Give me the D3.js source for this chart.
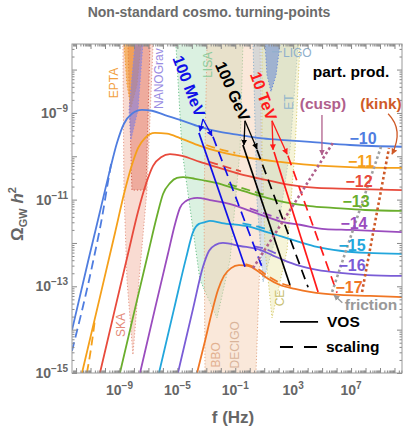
<!DOCTYPE html>
<html><head><meta charset="utf-8">
<script src="https://cdn.jsdelivr.net/npm/d3@7"></script>
<style>
body{margin:0;background:#fff}
text{font-family:"Liberation Sans",Arial,sans-serif}
</style>
</head><body>
<svg id="chart" width="407" height="431"></svg>
<script>
// all points are [log10 f(Hz), log10 Omega_GW h^2]
const xDomain = [-12.28, 10.52];
const yDomain = [-15, -7.41];
const xLabelExps = [-9, -5, -1, 3, 7];
const yLabelExps = [-15, -13, -11, -9];

const gmuLabels = ["−10", "−11", "−12", "−13", "−14", "−15", "−16", "−17"];
const gmuColors = ["#4f7de0", "#f5a01a", "#e84a3c", "#6aae2c", "#9a4cbe", "#22a6dc", "#7a5cd6", "#f07624"];
const gmuLabelPos = [[7.83,-9.60],[7.69,-10.11],[7.55,-10.59],[7.34,-11.05],[7.20,-11.54],[7.07,-12.05],[7.07,-12.53],[6.86,-13.02]];

// VOS spectra for G mu = 1e-10 ... 1e-17
const vosM10 = [[-12.28,-14.01],[-11.18,-12.44],[-10.35,-11.28],[-9.66,-10.32],[-9.17,-9.69],[-8.69,-9.25],[-8.14,-9.02],[-7.45,-8.93],[-6.75,-8.95],[-5.86,-9.05],[-4.82,-9.16],[-3.44,-9.32],[-2.05,-9.44],[-0.67,-9.51],[0.71,-9.58],[2.09,-9.62],[4.16,-9.67],[6.93,-9.74],[10.52,-9.78]];
const vosM11 = [[-11.59,-15.00],[-10.35,-13.25],[-9.31,-11.77],[-8.62,-10.78],[-8.14,-10.20],[-7.72,-9.81],[-7.24,-9.58],[-6.55,-9.46],[-5.72,-9.48],[-4.82,-9.58],[-3.44,-9.76],[-2.05,-9.90],[0.02,-10.04],[2.09,-10.13],[4.16,-10.20],[6.93,-10.25],[10.52,-10.27]];
const vosM12 = [[-10.35,-15.00],[-9.31,-13.52],[-8.41,-12.25],[-7.72,-11.28],[-7.17,-10.64],[-6.68,-10.22],[-6.13,-10.02],[-5.51,-9.95],[-4.68,-9.99],[-3.44,-10.13],[-2.26,-10.25],[-0.67,-10.41],[1.19,-10.55],[2.78,-10.66],[4.65,-10.73],[6.93,-10.75],[10.52,-10.78]];
const vosM13 = [[-8.97,-15.00],[-7.93,-13.52],[-7.03,-12.25],[-6.41,-11.38],[-5.99,-10.87],[-5.51,-10.62],[-5.03,-10.50],[-4.61,-10.48],[-3.78,-10.52],[-2.26,-10.62],[-1.16,-10.73],[0.02,-10.85],[1.19,-10.96],[2.30,-11.05],[4.16,-11.15],[5.75,-11.19],[7.97,-11.24],[10.52,-11.26]];
const vosM14 = [[-7.58,-15.00],[-6.55,-13.52],[-5.65,-12.25],[-5.16,-11.56],[-4.82,-11.19],[-4.40,-11.03],[-4.06,-10.98],[-3.64,-10.96],[-2.75,-11.01],[-1.16,-11.12],[0.02,-11.26],[1.19,-11.40],[2.30,-11.52],[3.47,-11.58],[5.20,-11.68],[6.93,-11.70],[10.52,-11.75]];
const vosM15 = [[-6.27,-15.00],[-5.23,-13.52],[-4.40,-12.35],[-3.92,-11.75],[-3.51,-11.56],[-3.09,-11.52],[-2.75,-11.49],[-1.92,-11.54],[0.02,-11.63],[1.19,-11.75],[2.30,-11.86],[3.47,-11.98],[4.65,-12.09],[6.24,-12.18],[8.10,-12.23],[10.52,-12.25]];
const vosM16 = [[-4.96,-15.00],[-3.92,-13.52],[-3.23,-12.55],[-2.81,-12.18],[-2.40,-12.05],[-1.85,-12.00],[-0.67,-12.07],[0.71,-12.16],[1.54,-12.28],[2.30,-12.39],[3.47,-12.53],[4.65,-12.62],[6.24,-12.69],[8.10,-12.74],[10.52,-12.76]];
const vosM17 = [[-3.64,-15.00],[-3.09,-14.26],[-2.61,-13.59],[-2.19,-13.08],[-1.78,-12.76],[-1.29,-12.58],[-0.74,-12.51],[-0.12,-12.53],[0.57,-12.65],[1.19,-12.81],[2.09,-12.97],[3.13,-13.06],[4.16,-13.13],[6.24,-13.20],[8.31,-13.22],[10.52,-13.25]];

// scaling spectra, only where they split visibly from VOS
const scalingM10 = [[-12.28,-14.49],[-10.83,-12.44],[-10.20,-11.40],[-9.80,-10.60],[-9.55,-10.12]];
const scalingM11 = [[-11.25,-15.00],[-10.95,-14.40],[-10.70,-13.78]];
const scalingM11Mid = [[-3.0,-9.74],[-2.05,-9.84],[-1.0,-9.92]];
const scalingM12Mid = [[-2.8,-10.13],[-2.0,-10.21],[-0.6,-10.35]];
const scalingM13Mid = [[-1.5,-10.64],[0.02,-10.79],[1.0,-10.89]];
const scalingM14Mid = [[0.0,-11.20],[1.19,-11.34],[2.0,-11.43]];
const scalingM15Mid = [[-0.5,-11.55],[0.5,-11.62],[1.5,-11.72]];
const scalingM16Mid = [[0.3,-12.08],[1.0,-12.13],[1.8,-12.24]];
const scalingM17Mid = [[-0.3,-12.49],[0.57,-12.60],[1.19,-12.75],[2.09,-12.92],[3.0,-13.01]];

// turning-point lines
const tpMeVSolid = [[-3.51,-9.46],[-0.33,-12.55]];
const tpMeVDashed = [[-2.54,-9.55],[0.92,-12.62]];
const tpGeVSolid = [[-0.47,-9.74],[2.78,-12.97]];
const tpGeVDashed = [[0.50,-9.85],[4.03,-13.02]];
const tpTeVSolid = [[1.68,-9.90],[4.72,-13.13]];
const tpTeVDashed = [[2.64,-9.99],[6.03,-13.15]];

// particle-production lines
const cuspLine = [[0.23,-12.58],[5.75,-9.69]];
const kinkLine = [[7.76,-13.13],[9.62,-9.81]];
const frictionLine = [[5.69,-13.13],[9.07,-9.78]];

// detector sensitivity regions
const regionSKA = [[-8.76,-7.41],[-6.68,-7.41],[-7.10,-10.78],[-7.65,-12.85],[-8.07,-14.58],[-8.48,-12.85],[-8.69,-10.78]];
const regionPTA = [[-8.41,-7.41],[-6.89,-7.41],[-7.17,-10.78],[-8.14,-10.78]];
const regionEPTA = [[-8.69,-7.41],[-7.51,-7.41],[-7.79,-8.35],[-8.21,-8.88],[-8.48,-8.35]];
const regionNANOGrav = [[-7.93,-7.41],[-7.38,-7.41],[-7.72,-8.93],[-8.21,-9.62],[-8.34,-8.93]];
const regionLISA = [[-5.10,-7.41],[-0.47,-7.41],[-0.67,-9.85],[-1.36,-12.39],[-2.26,-13.73],[-3.44,-12.85],[-4.68,-9.85]];
const regionDECIGO = [[-2.95,-7.41],[0.71,-7.41],[0.85,-11.01],[0.43,-15.0],[-3.09,-15.0],[-3.16,-11.01]];
const regionET = [[0.23,-7.41],[3.34,-7.41],[2.78,-9.85],[1.95,-11.70],[0.92,-12.90],[0.50,-11.01]];
const regionCE = [[0.85,-7.41],[3.47,-7.41],[3.13,-9.85],[2.58,-12.16],[1.54,-13.73],[1.06,-12.16],[0.85,-9.85]];
const regionLIGO = [[1.06,-7.41],[2.09,-7.41],[1.82,-8.12],[1.47,-8.51],[1.19,-8.12]];

const svg = d3.select("#chart");
const x = d3.scaleLinear().domain(xDomain).range([72, 402]);
const y = d3.scaleLinear().domain(yDomain).range([373, 44]);
const px = d => x(d[0]), py = d => y(d[1]);

svg.append("defs").append("clipPath").attr("id", "clip")
  .append("rect").attr("x", 72).attr("y", 44).attr("width", 330).attr("height", 329);

// arrow markers
const defs = svg.select("defs");
[["blue","#1010e8"],["black","#000"],["red","#ff1a1a"],["cusp","#b0608c"],["kink","#cf5a28"],["gray","#999"]].forEach(([id, c]) => {
  defs.append("marker").attr("id", "ah-" + id).attr("viewBox", "0 0 10 10")
    .attr("refX", 9).attr("refY", 5).attr("markerWidth", 6).attr("markerHeight", 6)
    .attr("orient", "auto").attr("markerUnits", "userSpaceOnUse")
    .append("path").attr("d", "M0,0 L10,5 L0,10 Z").attr("fill", c);
});

const g = svg.append("g").attr("clip-path", "url(#clip)");

// regions
const poly = d3.line().x(px).y(py);
const regions = [
  [regionSKA, "#f3b8a6", 0.5, "#e59a88"],
  [regionPTA, "#e0705e", 0.45, "#d06050"],
  [regionLISA, "#a6dcb4", 0.4, "#6cc08a"],
  [regionDECIGO, "#f6d2b6", 0.5, "#e3aa88"],
  [regionET, "#b3c6d2", 0.5, "#8eb2cc"],
  [regionCE, "#ebe6a8", 0.45, "#d8cc70"],
  [regionEPTA, "#f39a2c", 0.6, "#f39a2c"],
  [regionNANOGrav, "#7b79dc", 0.55, "#8c88e0"],
  [regionLIGO, "#5d7fd6", 0.5, "#6a8ad8"]
];
regions.forEach(([pts, fill, op, stroke]) => {
  g.append("path").attr("d", poly(pts) + "Z")
    .attr("fill", fill).attr("fill-opacity", op)
    .attr("stroke", stroke).attr("stroke-width", 1).attr("stroke-dasharray", "1.2,2");
});

// spectra
const curve = d3.line().x(px).y(py).curve(d3.curveMonotoneX);
const vos = [vosM10, vosM11, vosM12, vosM13, vosM14, vosM15, vosM16, vosM17];
const scaling = [[scalingM10, 0], [scalingM11, 1], [scalingM11Mid, 1], [scalingM12Mid, 2], [scalingM13Mid, 3],
  [scalingM14Mid, 4], [scalingM15Mid, 5], [scalingM16Mid, 6], [scalingM17Mid, 7]];
scaling.forEach(([pts, i]) => {
  g.append("path").attr("d", curve(pts)).attr("fill", "none")
    .attr("stroke", gmuColors[i]).attr("stroke-width", 1.8).attr("stroke-dasharray", "9,5");
});
vos.forEach((pts, i) => {
  g.append("path").attr("d", curve(pts)).attr("fill", "none")
    .attr("stroke", gmuColors[i]).attr("stroke-width", 1.8);
});

// turning-point lines
const seg = d3.line().x(px).y(py);
[[tpMeVSolid, "#1010e8", null], [tpMeVDashed, "#1010e8", "10,6"],
 [tpGeVSolid, "#000", null], [tpGeVDashed, "#000", "10,6"],
 [tpTeVSolid, "#ff1a1a", null], [tpTeVDashed, "#ff1a1a", "10,6"]].forEach(([pts, c, dash]) => {
  g.append("path").attr("d", seg(pts)).attr("fill", "none")
    .attr("stroke", c).attr("stroke-width", 1.7).attr("stroke-dasharray", dash);
});

// particle-production dotted lines
[[cuspLine, "#b0608c"], [kinkLine, "#cf5a28"], [frictionLine, "#a0a0a0"]].forEach(([pts, c]) => {
  g.append("path").attr("d", seg(pts)).attr("fill", "none")
    .attr("stroke", c).attr("stroke-width", 2.6).attr("stroke-dasharray", "2.6,2.6");
});

// detector labels
const detLabels = [
  ["EPTA", [-9.38,-8.31], "#f2a040"], ["NANOGrav", [-6.27,-8.21], "#9a8ce2"],
  ["LISA", [-2.88,-7.89], "#8ccb9c"], ["ET", [2.71,-8.75], "#92b6cc"],
  ["SKA", [-8.90,-13.89], "#e48a78"], ["BBO", [-2.33,-14.58], "#e2b090"],
  ["DECIGO", [-1.02,-14.35], "#d9b49a"], ["CE", [2.09,-13.27], "#c8c070"]
];
detLabels.forEach(([t, p, c]) => {
  g.append("text").attr("transform", `translate(${px(p)},${py(p)}) rotate(-90)`)
    .attr("text-anchor", "middle").attr("dominant-baseline", "central")
    .attr("font-size", 12).attr("fill", c).text(t);
});
g.append("path").attr("d", seg([[1.54,-7.59],[2.23,-7.59]])).attr("stroke", "#90b0cc").attr("stroke-width", 1);
g.append("text").attr("x", x(2.30)).attr("y", y(-7.62)).attr("dominant-baseline", "central")
  .attr("font-size", 12).attr("fill", "#90b0cc").text("LIGO");

// turning-point labels and arrows
const tpLabels = [
  ["100 MeV", [-4.20,-8.38], 69, "#1010e8", "blue", [-3.23,-9.14], [[-3.44,-9.42],[-2.61,-9.53]]],
  ["100 GeV", [-1.19,-8.50], 66, "#000", "black", [-0.33,-9.18], [[-0.40,-9.74],[0.50,-9.83]]],
  ["10 TeV", [0.95,-8.61], 70, "#ff1a1a", "red", [1.54,-9.18], [[1.61,-9.85],[2.58,-9.95]]]
];
tpLabels.forEach(([t, p, ang, c, m, from, tips]) => {
  svg.append("text").attr("transform", `translate(${px(p)},${py(p)}) rotate(${ang})`)
    .attr("text-anchor", "middle").attr("dominant-baseline", "central")
    .attr("font-size", 16).attr("font-weight", "bold").attr("fill", c).text(t);
  tips.forEach(tip => {
    svg.append("path").attr("d", seg([from, tip])).attr("stroke", c).attr("stroke-width", 1.3)
      .attr("fill", "none").attr("marker-end", `url(#ah-${m})`);
  });
});

// G mu labels
gmuLabels.forEach((t, i) => {
  svg.append("text").attr("x", px(gmuLabelPos[i])).attr("y", py(gmuLabelPos[i]))
    .attr("text-anchor", "middle").attr("dominant-baseline", "central")
    .attr("font-size", 16).attr("font-weight", "bold").attr("fill", gmuColors[i]).text(t);
});

// other annotations
const note = (t, p, c, size, anchor) => svg.append("text").attr("x", px(p)).attr("y", py(p))
  .attr("text-anchor", anchor || "middle").attr("dominant-baseline", "central")
  .attr("font-size", size).attr("font-weight", "bold").attr("fill", c).text(t);
note("part. prod.", [7.00,-8.05], "#000", 15.5);
note("(cusp)", [5.06,-8.79], "#b0608c", 15.5);
note("(kink)", [9.07,-8.79], "#cf5a28", 15.5);
note("friction", [8.38,-13.41], "#999", 15.5);
svg.append("path").attr("d", seg([[4.99,-9.05],[4.99,-9.97]])).attr("stroke", "#b0608c")
  .attr("stroke-width", 1.3).attr("marker-end", "url(#ah-cusp)");
svg.append("path").attr("d", `M${x(9.56)},${y(-9.02)} Q${x(10.66)},${y(-9.39)} ${x(9.83)},${y(-9.95)}`)
  .attr("stroke", "#cf5a28").attr("stroke-width", 1.3).attr("fill", "none").attr("marker-end", "url(#ah-kink)");
svg.append("path").attr("d", seg([[6.40,-13.38],[5.82,-13.20]])).attr("stroke", "#999")
  .attr("stroke-width", 1.3).attr("marker-end", "url(#ah-gray)");

// legend
svg.append("path").attr("d", seg([[2.09,-13.82],[4.72,-13.82]])).attr("stroke", "#000").attr("stroke-width", 1.8);
svg.append("path").attr("d", seg([[2.09,-14.40],[4.65,-14.40]])).attr("stroke", "#000").attr("stroke-width", 1.8).attr("stroke-dasharray", "13,11");
note("VOS", [5.34,-13.82], "#000", 15.5, "start");
note("scaling", [5.27,-14.40], "#000", 15.5, "start");

// frame and ticks
const tickColor = "#888";
function decadeTicks(dom) {
  const major = [], minor = [];
  for (let e = Math.floor(dom[0]); e <= Math.ceil(dom[1]); e++) {
    if (e >= dom[0] && e <= dom[1]) major.push(e);
    for (let k = 2; k <= 9; k++) {
      const v = e + Math.log10(k);
      if (v >= dom[0] && v <= dom[1]) minor.push(v);
    }
  }
  return [major, minor];
}
const [xMaj, xMin] = decadeTicks(xDomain);
const [yMaj, yMin] = decadeTicks(yDomain);
function drawAxis(axisFn, scale, vals, size, tr) {
  const a = svg.append("g").attr("transform", tr)
    .call(axisFn(scale).tickValues(vals).tickSize(size).tickFormat(""));
  a.select(".domain").remove();
  a.selectAll("line").attr("stroke", tickColor);
}
drawAxis(d3.axisBottom, x, xMaj, -5, "translate(0,373)");
drawAxis(d3.axisBottom, x, xMin, -2.5, "translate(0,373)");
drawAxis(d3.axisTop, x, xMaj, -5, "translate(0,44)");
drawAxis(d3.axisTop, x, xMin, -2.5, "translate(0,44)");
drawAxis(d3.axisLeft, y, yMaj, -5, "translate(72,0)");
drawAxis(d3.axisLeft, y, yMin, -2.5, "translate(72,0)");
drawAxis(d3.axisRight, y, yMaj, -5, "translate(402,0)");
drawAxis(d3.axisRight, y, yMin, -2.5, "translate(402,0)");
svg.append("rect").attr("x", 72).attr("y", 44).attr("width", 330).attr("height", 329)
  .attr("fill", "none").attr("stroke", "#999").attr("stroke-width", 1);

// tick labels
const labColor = "#666";
xLabelExps.forEach(e => {
  const t = svg.append("text").attr("x", x(e)).attr("y", 395).attr("text-anchor", "middle")
    .attr("font-size", 14).attr("font-weight", "bold").attr("fill", labColor);
  t.append("tspan").text("10");
  t.append("tspan").attr("dy", -6).attr("font-size", 10).text(e < 0 ? "−" + (-e) : String(e));
});
yLabelExps.forEach(e => {
  const t = svg.append("text").attr("x", 68).attr("y", y(e) + 5).attr("text-anchor", "end")
    .attr("font-size", 14).attr("font-weight", "bold").attr("fill", labColor);
  t.append("tspan").text("10");
  t.append("tspan").attr("dy", -6).attr("font-size", 10).text("−" + (-e));
});

// titles
svg.append("text").attr("x", 209).attr("y", 17).attr("text-anchor", "middle")
  .attr("font-size", 14).attr("font-weight", "bold").attr("fill", "#6b6b6b")
  .text("Non-standard cosmo. turning-points");
svg.append("text").attr("x", 233).attr("y", 423).attr("text-anchor", "middle")
  .attr("font-size", 17).attr("font-weight", "bold").attr("fill", labColor).text("f (Hz)");
const yl = svg.append("text").attr("transform", "translate(23,214) rotate(-90)").attr("text-anchor", "middle")
  .attr("font-size", 17).attr("font-weight", "bold").attr("fill", labColor);
yl.append("tspan").text("Ω");
yl.append("tspan").attr("font-size", 11).attr("dy", 4).text("GW");
yl.append("tspan").attr("dy", -4).attr("font-style", "italic").text(" h");
yl.append("tspan").attr("font-size", 11).attr("dy", -7).text("2");
</script>
</body></html>
